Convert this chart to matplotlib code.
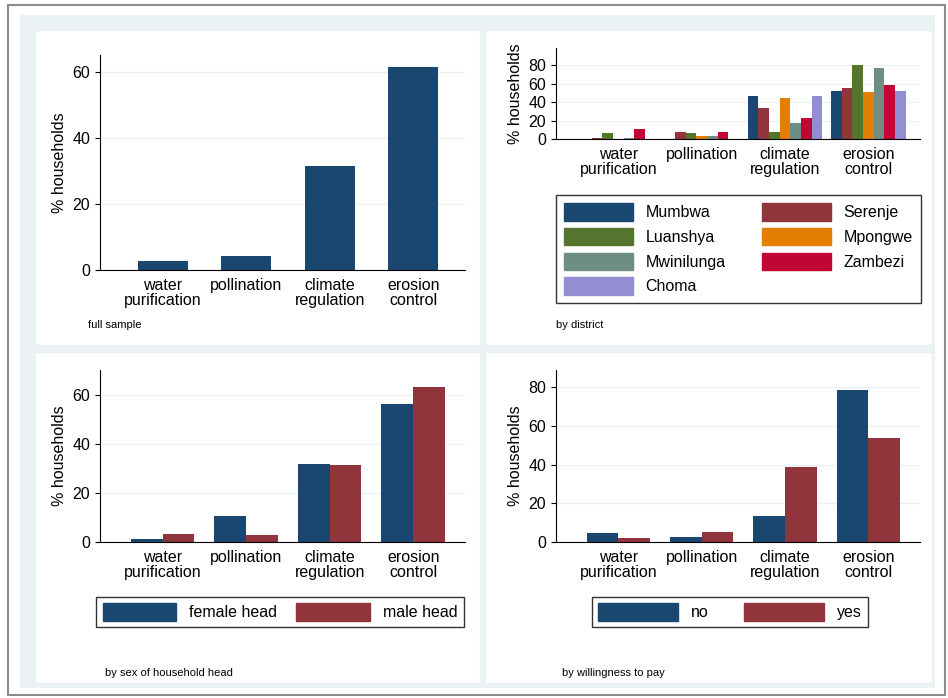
import matplotlib.pyplot as plt
import matplotlib.patches as mpatches
import numpy as np

plt.rcParams["font.family"] = ["Liberation Sans", "DejaVu Sans"]

services = ["water\npurification", "pollination", "climate\nregulation", "erosion\ncontrol"]

full_sample = [2.7, 4.2, 31.3, 61.5]

districts = ["Mumbwa", "Serenje", "Luanshya", "Mpongwe", "Mwinilunga", "Zambezi", "Choma"]
district_values = {
    "Mumbwa": [0, 0, 47, 52.6],
    "Serenje": [1.5, 8, 33.7, 56],
    "Luanshya": [6, 6, 8, 80.4],
    "Mpongwe": [0, 3.7, 44.8, 51.5],
    "Mwinilunga": [1.5, 3.7, 17, 77],
    "Zambezi": [10.4, 8, 22.6, 59],
    "Choma": [0, 0, 47, 52.6],
}
female_head = [1.3, 10.5, 31.8, 56.3]
male_head = [3.2, 2.8, 31.3, 63]
wtp_no = [4.5, 2.7, 13.7, 78.5]
wtp_yes = [2, 5, 39, 54]

colors = ["#1a476f", "#90353b", "#55752f", "#e37e00", "#6e8e84", "#c10534", "#938dd2"]

W, H = 948, 698
fig = plt.figure(figsize=(W / 100, H / 100), dpi=100)
fig.patch.set_facecolor("white")

def box(x0, y0, x1, y1, **kw):
    fig.patches.append(mpatches.Rectangle((x0 / W, 1 - y1 / H), (x1 - x0) / W, (y1 - y0) / H,
                                          transform=fig.transFigure, zorder=-5, **kw))

def axes(x0, y0, x1, y1):
    ax = fig.add_axes([x0 / W, 1 - y1 / H, (x1 - x0) / W, (y1 - y0) / H])
    ax.patch.set_alpha(0)
    return ax

box(8, 5, 945, 695, facecolor="none", edgecolor="#8c8c8c", lw=1.5)
box(20, 15, 935, 688, facecolor="#eaf2f3", edgecolor="none")
for (x0, y0, x1, y1) in [(35, 30, 480, 345), (485, 30, 932, 345), (35, 352, 480, 683), (485, 352, 932, 683)]:
    box(x0, y0, x1, y1, facecolor="white", edgecolor="#eaf2f3", lw=1)

def style(ax, ymax, ticks):
    ax.set_ylim(0, ymax)
    ax.set_yticks(ticks)
    ax.set_xlim(-0.75, 3.62)
    ax.set_xticks(range(4))
    ax.set_xticklabels(services, fontsize=11.5, linespacing=1.0)
    ax.tick_params(axis="x", length=0, pad=6)
    ax.tick_params(axis="y", labelsize=11.5)
    for s in ["top", "right"]:
        ax.spines[s].set_visible(False)
    ax.yaxis.grid(True, color="#eaf2f3", lw=1)
    ax.set_axisbelow(True)
    ax.set_ylabel("% households", fontsize=11.5)

def grouped(ax, series, cols, width):
    n = len(series)
    x = np.arange(4)
    for i, (vals, c) in enumerate(zip(series, cols)):
        ax.bar(x + (i - (n - 1) / 2) * width, vals, width, color=c)

# full sample
ax1 = axes(100, 55, 465, 270)
ax1.bar(range(4), full_sample, 0.6, color=colors[0])
style(ax1, 65, [0, 20, 40, 60])
fig.text(88 / W, 1 - 325 / H, "full sample", fontsize=8, va="center")

# by district
ax2 = axes(556, 48, 920, 139)
grouped(ax2, [district_values[d] for d in districts], colors, 0.128)
style(ax2, 99, [0, 20, 40, 60, 80])
handles = [mpatches.Patch(color=c) for c in colors]
order = [0, 2, 4, 6, 1, 3, 5]
fig.legend([handles[i] for i in order], [districts[i] for i in order], loc="center",
           bbox_to_anchor=((562 + 915) / 2 / W, 1 - 249 / H),
           ncol=2, fontsize=11.5, frameon=True, fancybox=False, edgecolor="black",
           handlelength=4.3, handleheight=1.3, columnspacing=2.3, borderpad=0.5, labelspacing=0.45)
fig.text(556 / W, 1 - 325 / H, "by district", fontsize=8, va="center")

# by sex
ax3 = axes(100, 370, 465, 542)
grouped(ax3, [female_head, male_head], colors[:2], 0.38)
style(ax3, 70, [0, 20, 40, 60])
fig.legend([mpatches.Patch(color=colors[0]), mpatches.Patch(color=colors[1])], ["female head", "male head"],
           loc="center", bbox_to_anchor=(280 / W, 1 - 612 / H), ncol=2, fontsize=11.5, fancybox=False,
           edgecolor="black", handlelength=4.6, handleheight=1.3, columnspacing=1.2)
fig.text(105 / W, 1 - 673 / H, "by sex of household head", fontsize=8, va="center")

# by willingness to pay
ax4 = axes(556, 370, 920, 542)
grouped(ax4, [wtp_no, wtp_yes], colors[:2], 0.38)
style(ax4, 89, [0, 20, 40, 60, 80])
fig.legend([mpatches.Patch(color=colors[0]), mpatches.Patch(color=colors[1])], ["no", "yes"],
           loc="center", bbox_to_anchor=(730 / W, 1 - 612 / H), ncol=2, fontsize=11.5, fancybox=False,
           edgecolor="black", handlelength=5.0, handleheight=1.3, columnspacing=2.2)
fig.text(562 / W, 1 - 673 / H, "by willingness to pay", fontsize=8, va="center")

fig.savefig("out.png", dpi=100)
